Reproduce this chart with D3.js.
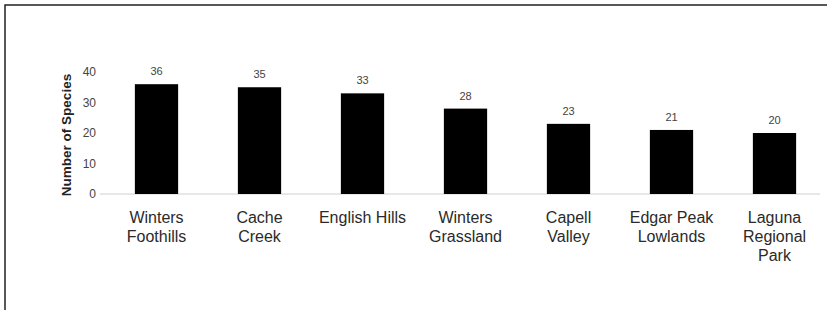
<!DOCTYPE html>
<html><head><meta charset="utf-8">
<script src="https://cdn.jsdelivr.net/npm/d3@7"></script>
<style>body{margin:0;background:#fff}svg{display:block;font-family:"Liberation Sans",Arial,sans-serif}</style>
</head><body>
<svg id="c" width="827" height="310"></svg>
<script>
const categories = ["Winters Foothills","Cache Creek","English Hills","Winters Grassland","Capell Valley","Edgar Peak Lowlands","Laguna Regional Park"];
const species = [36, 35, 33, 28, 23, 21, 20];
const yTicks = [0, 10, 20, 30, 40];
const yTitle = "Number of Species";

const svg = d3.select("#c");
svg.append("rect").attr("x",5).attr("y",5).attr("width",900).attr("height",400)
  .attr("fill","none").attr("stroke","#222").attr("stroke-width",1.5);

const x = d3.scaleBand().domain(categories).range([105, 826]).paddingInner(0.58).paddingOuter(0.29);
const y = d3.scaleLinear().domain([0, 40]).range([194, 72]);

// baseline
svg.append("line").attr("x1",100).attr("x2",820).attr("y1",y(0)).attr("y2",y(0))
  .attr("stroke","#d0d0d0").attr("stroke-width",1);

// y axis
const ya = svg.append("g").attr("transform","translate(96,0)")
  .call(d3.axisLeft(y).tickValues(yTicks).tickSize(0).tickPadding(0));
ya.select(".domain").remove();
ya.selectAll("text").attr("font-size",12).attr("fill","#444").attr("font-family","Liberation Sans, Arial, sans-serif");

svg.append("text").attr("transform","translate(71,135) rotate(-90)")
  .attr("text-anchor","middle").attr("font-size",13.5).attr("font-weight","bold").attr("fill","#222")
  .text(yTitle);

// bars
svg.selectAll("rect.bar").data(categories).join("rect").attr("class","bar")
  .attr("x", d => x(d)).attr("width", x.bandwidth())
  .attr("y", (d,i) => y(species[i])).attr("height", (d,i) => y(0) - y(species[i]))
  .attr("fill","#000");

// value labels
svg.selectAll("text.val").data(categories).join("text").attr("class","val")
  .attr("x", d => x(d) + x.bandwidth()/2).attr("y", (d,i) => y(species[i]) - 9)
  .attr("text-anchor","middle").attr("font-size",11).attr("fill","#444")
  .text((d,i) => species[i]);

// x axis labels with wrapping
const xa = svg.append("g").attr("transform",`translate(0,${y(0)})`)
  .call(d3.axisBottom(x).tickSize(0).tickPadding(0));
xa.select(".domain").remove();
xa.selectAll("text").attr("font-size",16).attr("fill","#2a2a2a")
  .attr("font-family","Liberation Sans, Arial, sans-serif")
  .attr("dy", null).attr("y", null)
  .each(function(d){
    const t = d3.select(this);
    const words = d.split(" ");
    t.text(null);
    const maxW = 90;
    let line = [], lines = [];
    const tmp = t.append("tspan");
    words.forEach(w => {
      line.push(w);
      tmp.text(line.join(" "));
      if (tmp.node().getComputedTextLength() > maxW && line.length > 1) {
        line.pop(); lines.push(line.join(" ")); line = [w];
      }
    });
    lines.push(line.join(" "));
    tmp.remove();
    lines.forEach((l,i) => {
      t.append("tspan").attr("x",0).attr("y", 29 + i*19).text(l);
    });
  });
</script>
</body></html>
